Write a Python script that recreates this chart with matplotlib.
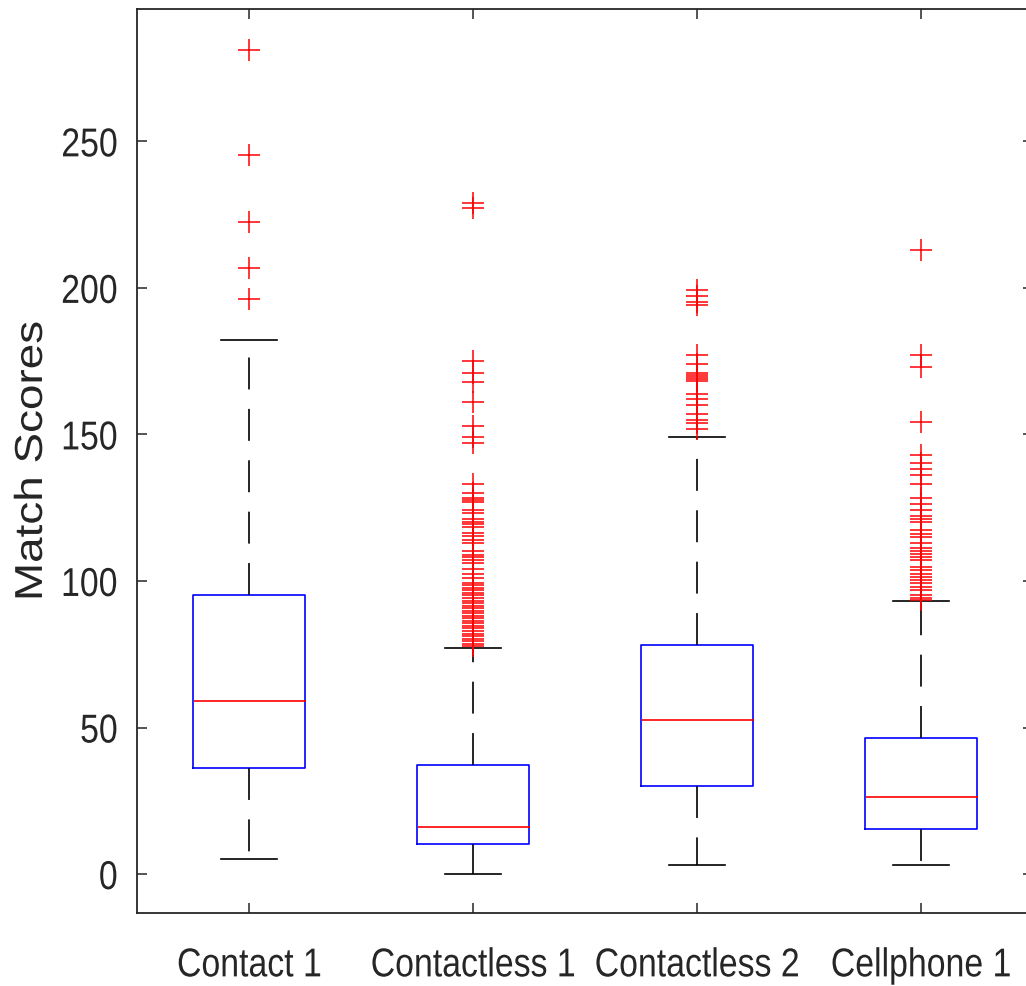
import matplotlib
matplotlib.use('Agg')
import matplotlib.pyplot as plt
import matplotlib.patheffects as pe
from matplotlib.transforms import Affine2D

## valores
groups = ['Contact 1', 'Contactless 1', 'Contactless 2', 'Cellphone 1']
q1 = [36.2, 10.2, 30.0, 15.3]
med = [59.0, 16.0, 52.5, 26.3]
q3 = [95.2, 37.2, 78.1, 46.4]
whislo = [5.1, 0.0, 3.1, 3.1]
whishi = [182.1, 77.1, 149.0, 93.1]

fl_contact1 = [196.1, 206.7, 222.4, 245.2, 281.0]
fl_contactless1 = [229.1, 227.1, 175.1, 171.1, 168.0, 161.1, 153.0, 149.0, 147.1,
                   133.1, 130.0, 128.2, 127.5, 126.9, 124.1, 123.1, 121.1, 120.2,
                   119.3, 118.3, 116.3, 115.4, 114.0, 112.9, 110.2, 109.0, 108.1,
                   107.0, 106.1, 104.0, 102.3, 101.0, 99.2, 98.5, 97.6, 96.8, 96.0,
                   95.1, 94.2, 93.3, 92.5, 91.6, 90.8, 89.9, 89.0, 88.1, 87.3, 86.4,
                   85.5, 84.7, 83.8, 82.9, 82.0, 81.2, 80.3, 79.5, 78.6, 77.8]
fl_contactless2 = [199.2, 197.2, 195.2, 194.2, 177.0, 174.0, 171.0, 170.2, 169.5,
                   168.8, 168.2, 163.9, 162.1, 160.1, 157.1, 155.0, 153.9, 152.0]
fl_cellphone1 = [213.0, 177.1, 173.1, 154.2, 143.1, 140.2, 138.1, 136.1, 133.1,
                 128.2, 126.2, 124.2, 122.2, 121.1, 120.1, 117.3, 116.1, 115.0,
                 113.1, 111.1, 110.1, 109.1, 108.1, 107.1, 104.8, 103.6, 102.5,
                 101.4, 100.3, 99.2, 98.0, 96.9, 95.2, 94.3, 93.4]
fliers = [fl_contact1, fl_contactless1, fl_contactless2, fl_cellphone1]

plt.rcParams['lines.scale_dashes'] = False
txtc = '#262626'

class Squeeze(pe.AbstractPathEffect):
	## comprime el texto (letra estrecha) sin cambiar su posicion
	def __init__(self, sx=1., sy=1., anchor='center'):
		super().__init__()
		self.sx, self.sy, self.anchor = sx, sy, anchor
	def draw_path(self, renderer, gc, tpath, affine, rgbFace=None):
		ext = tpath.get_extents()
		x0 = {'center': (ext.x0 + ext.x1) / 2, 'right': ext.x1, 'left': ext.x0}[self.anchor]
		t = Affine2D().translate(-x0, 0).scale(self.sx, self.sy).translate(x0, 0) + affine
		renderer.draw_path(gc, tpath, t, rgbFace)

stats = []
for i in range(len(groups)):
	stats.append({'label': groups[i], 'q1': q1[i], 'med': med[i], 'q3': q3[i],
	              'whislo': whislo[i], 'whishi': whishi[i], 'fliers': fliers[i]})

fig = plt.figure(figsize=(10.26, 9.86), dpi=100)
ax = fig.add_axes([0.134, 0.074, 0.873, 0.917])
ax.bxp(stats, positions=[1, 2, 3, 4], widths=0.5,
       boxprops=dict(color='blue', linewidth=1.2),
       medianprops=dict(color='red', linewidth=1.2),
       whiskerprops=dict(color='black', linewidth=1.2, linestyle=(0, (23, 14))),
       capprops=dict(color='black', linewidth=1.2),
       flierprops=dict(marker='+', markeredgecolor='red', markersize=16,
                       markeredgewidth=1.1, linestyle='none'))

ax.set_xlim(0.5, 4.5)
ax.set_ylim(-13.3, 295.2)
ax.set_yticks([0, 50, 100, 150, 200, 250])
ax.set_xticks([1, 2, 3, 4])
ax.set_xticklabels(groups)
ax.tick_params(direction='in', length=7, width=1.1, colors=txtc, top=True, right=True)
ax.tick_params(axis='y', pad=14)
ax.tick_params(axis='x', pad=24)
for lab in ax.get_xticklabels():
	lab.set_family('Liberation Sans')
	lab.set_fontsize(29)
	lab.set_color(txtc)
	lab.set_path_effects([Squeeze(sx=0.84, anchor='center')])
for lab in ax.get_yticklabels():
	lab.set_family('Liberation Sans')
	lab.set_fontsize(29)
	lab.set_color(txtc)
	lab.set_path_effects([Squeeze(sx=0.84, anchor='right')])
for s in ax.spines.values():
	s.set_color(txtc)
	s.set_linewidth(1.3)
ax.set_ylabel('Match Scores', fontsize=33, family='Liberation Sans', color=txtc,
              path_effects=[Squeeze(sy=0.85)])
ax.yaxis.set_label_coords(-0.0955, 0.5)

fig.savefig('out.png', dpi=100)
